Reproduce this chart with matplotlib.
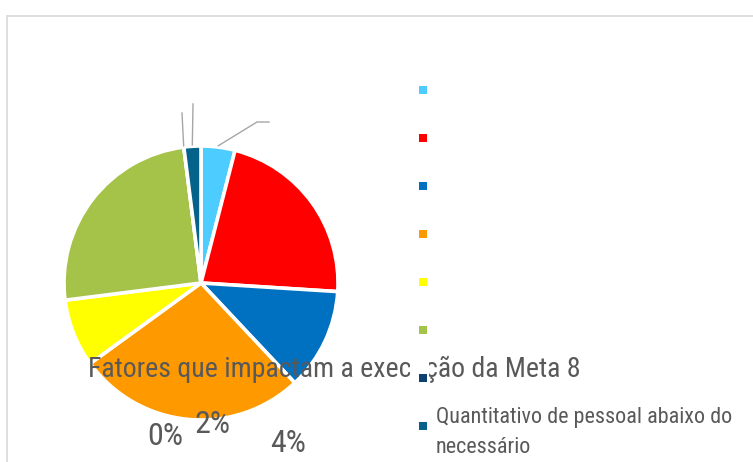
import numpy as np
import matplotlib
matplotlib.use("Agg")
import matplotlib.pyplot as plt
from matplotlib.patches import Rectangle
from matplotlib import font_manager

# ---------------- dados ----------------
categorias = ["", "", "", "", "", "", "",
              "Quantitativo de pessoal abaixo do\nnecessário"]
valores = [4, 22, 12, 27, 8, 25, 0, 2]
cores = ["#4DCCFF", "#FF0000", "#0070C0", "#FF9900",
         "#FFFF00", "#A5C249", "#0E3F73", "#05638B"]
titulo = "Fatores que impactam a execução da Meta 8"
rotulos_visiveis = [6, 7, 0]   # indices cujos % aparecem (0%, 2%, 4%)

W, H = 753, 462
cinza = "#595959"

# fonte mais estreita disponivel
instaladas = {f.name for f in font_manager.fontManager.ttflist}
candidatas = ["Liberation Sans Narrow", "DejaVu Sans Condensed",
              "Roboto Condensed", "Roboto"]
fonte = [f for f in candidatas if f in instaladas][:1] + ["DejaVu Sans"]

fig = plt.figure(figsize=(W / 100, H / 100), dpi=100)
ax = fig.add_axes([0, 0, 1, 1])

def py(y):
    # converte y em pixels (topo=0) para coordenada do eixo
    return H - y

cx, cy, r = 201, 283, 137

wedges, _ = ax.pie(valores, colors=cores, startangle=90, counterclock=False,
                   center=(cx, py(cy)), radius=r,
                   wedgeprops=dict(edgecolor="white", linewidth=2.6))
ax.set_xlim(0, W)
ax.set_ylim(0, H)
ax.set_aspect("equal")
ax.axis("off")

# moldura do gráfico
ax.add_patch(Rectangle((7.5, py(700)), 900, 700 - 15.5, fill=False,
                       edgecolor="#D9D9D9", linewidth=1.2, zorder=0))

# linhas de chamada
fim_linhas = {6: [(182, 113)], 7: [(193, 104)], 0: [(257, 122), (269, 122)]}
for i, pts in fim_linhas.items():
    w = wedges[i]
    ang = np.deg2rad((w.theta1 + w.theta2) / 2)
    x0 = cx + r * 1.01 * np.cos(ang)
    y0 = py(cy) + r * 1.01 * np.sin(ang)
    xs = [x0] + [p[0] for p in pts]
    ys = [y0] + [py(p[1]) for p in pts]
    ax.plot(xs, ys, color="#A6A6A6", linewidth=1.0, zorder=1)

renderer = fig.canvas.get_renderer()

def ajusta_largura(t, largura):
    # reduz/aumenta a fonte para caber na largura vista no original
    bb = t.get_window_extent(renderer)
    t.set_fontsize(t.get_fontsize() * largura / bb.width)

# titulo (deslocado, como no original)
t = ax.text(88, py(377), titulo, fontsize=20, color=cinza, family=fonte,
            ha="left", va="baseline", zorder=5)
ajusta_largura(t, 492)

# rotulos de porcentagem
pos_rotulos = [(147, 445), (195, 433), (270, 452)]
for i, (x, y) in zip(rotulos_visiveis, pos_rotulos):
    ax.text(x, py(y), f"{valores[i]}%", fontsize=23, color=cinza,
            family=fonte, ha="left", va="baseline", zorder=5)

# legenda
leg_y0, leg_dy = 90, 48
for k, (cat, cor) in enumerate(zip(categorias, cores)):
    yk = leg_y0 + k * leg_dy
    if k == 6:
        ax.add_patch(Rectangle((410, py(379)), 19, 22, facecolor="white",
                               edgecolor="none", zorder=6))
    ax.add_patch(Rectangle((419, py(yk + 4)), 8, 8, facecolor=cor,
                           edgecolor="none", zorder=7))
    if cat:
        tl = ax.text(436, py(yk - 19), cat, fontsize=14, color=cinza,
                     family=fonte, ha="left", va="top",
                     linespacing=1.55, zorder=7)
        ajusta_largura(tl, 297)

fig.savefig("out.png", dpi=100)
